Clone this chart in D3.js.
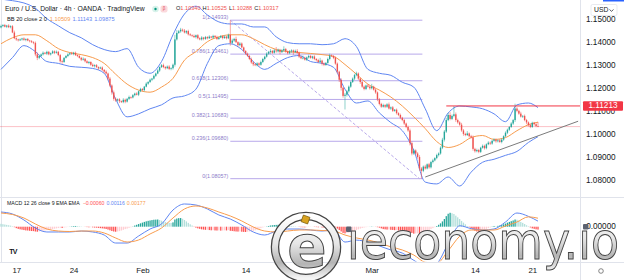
<!DOCTYPE html>
<html>
<head>
<meta charset="utf-8">
<script src="https://cdn.jsdelivr.net/npm/d3@7"></script>
<style>
  body { margin: 0; background: #fff; }
  svg { display: block; font-family: "Liberation Sans", Arial, sans-serif; }
</style>
</head>
<body>
<script>
// ---------- DATA ----------
// 4h candles, open = previous close
const firstOpen = 1.1462;
const closes = [
  1.1468,1.1472,1.1465,1.1470,1.1463,1.1467,1.1440,1.1415,1.1410,1.1406,
  1.1410,1.1414,1.1408,1.1412,1.1405,1.1402,1.1398,1.1395,1.1345,1.1330,
  1.1338,1.1345,1.1352,1.1348,1.1356,1.1345,1.1350,1.1358,1.1352,1.1356,
  1.1342,1.1315,1.1312,1.1330,1.1338,1.1345,1.1350,1.1346,1.1352,1.1342,
  1.1338,1.1330,1.1322,1.1326,1.1315,1.1308,1.1312,1.1300,1.1294,1.1298,
  1.1290,1.1284,1.1288,1.1278,1.1270,1.1262,1.1240,1.1210,1.1180,1.1152,
  1.1145,1.1150,1.1142,1.1138,1.1148,1.1140,1.1152,1.1160,1.1158,1.1168,
  1.1175,1.1170,1.1185,1.1195,1.1190,1.1205,1.1218,1.1225,1.1235,1.1240,
  1.1252,1.1262,1.1275,1.1290,1.1298,1.1290,1.1285,1.1292,1.1282,1.1285,
  1.1300,1.1410,1.1438,1.1445,1.1452,1.1448,1.1440,1.1446,1.1432,1.1428,
  1.1425,1.1420,1.1428,1.1415,1.1410,1.1418,1.1412,1.1420,1.1415,1.1422,
  1.1418,1.1425,1.1420,1.1412,1.1418,1.1424,1.1416,1.1422,1.1415,1.1430,
  1.1395,1.1405,1.1412,1.1398,1.1385,1.1392,1.1375,1.1360,1.1348,1.1338,
  1.1325,1.1310,1.1302,1.1298,1.1306,1.1300,1.1312,1.1325,1.1335,1.1348,
  1.1355,1.1360,1.1352,1.1362,1.1358,1.1365,1.1355,1.1362,1.1368,1.1358,
  1.1350,1.1358,1.1362,1.1355,1.1360,1.1352,1.1335,1.1328,1.1330,1.1322,
  1.1332,1.1338,1.1330,1.1336,1.1325,1.1320,1.1312,1.1318,1.1305,1.1300,
  1.1308,1.1325,1.1340,1.1338,1.1330,1.1305,1.1270,1.1235,1.1200,1.1165,
  1.1170,1.1185,1.1205,1.1225,1.1240,1.1255,1.1262,1.1240,1.1225,1.1205,
  1.1195,1.1210,1.1205,1.1198,1.1205,1.1192,1.1180,1.1150,1.1130,1.1118,
  1.1125,1.1118,1.1128,1.1110,1.1115,1.1100,1.1105,1.1090,1.1082,1.1070,
  1.1060,1.1045,1.1030,1.1015,1.0960,1.0915,1.0928,1.0915,1.0900,1.0850,
  1.0840,1.0858,1.0850,1.0868,1.0855,1.0878,1.0885,1.0895,1.0908,1.0915,
  1.0940,1.0975,1.1010,1.1060,1.1082,1.1065,1.1078,1.1085,1.1060,1.1050,
  1.1040,1.1015,1.1000,1.0995,1.1002,1.0990,1.0985,1.0935,1.0925,1.0930,
  1.0922,1.0940,1.0948,1.0938,1.0955,1.0962,1.0958,1.0970,1.0975,1.0968,
  1.0972,1.0965,1.0975,1.0990,1.1005,1.1018,1.1030,1.1045,1.1060,1.1110,
  1.1100,1.1088,1.1075,1.1078,1.1060,1.1050,1.1038,1.1030,1.1048,1.1042,
  1.1034,1.1032
];
// wick lengths in pips above / below the body
const wickUp = [
  6,4,5,3,6,4,5,8,4,3, 4,3,5,2,4,3,5,4,6,8, 5,4,6,3,5,4,3,5,4,6, 4,5,7,3,4,5,3,6,4,5,
  3,5,4,6,3,5,4,3,6,4, 5,3,4,5,3,6,4,7,5,8, 6,4,5,3,7,5,4,6,3,5, 4,6,3,5,4,3,6,4,5,3,
  5,4,6,3,5,7,4,5,6,4, 5,20,12,6,8,5,7,4,6,5, 4,6,3,5,4,6,3,5,4,6, 3,5,4,6,3,5,4,6,3,5,
  63,8,5,10,4,6,5,4,3,5, 4,6,5,3,5,4,6,5,4,6, 5,8,4,6,15,5,4,6,12,5, 4,6,5,4,6,8,5,4,10,5,
  4,6,5,3,5,4,6,12,4,5, 4,6,8,5,4,6,5,4,6,5, 8,6,5,4,5,6,8,5,4,6, 5,4,6,5,12,4,5,4,6,5,
  6,4,5,8,4,6,3,5,4,6, 4,5,4,6,8,7,6,5,6,8, 6,5,8,4,6,5,7,4,6,5, 6,8,7,10,8,12,6,36,8,6,
  5,8,6,5,10,4,6,8,5,6, 5,4,6,5,4,6,5,4,6,5, 4,6,5,4,6,5,4,6,5,21, 6,5,8,4,6,5,4,6,5,4,
  5,18
];
const wickDn = [
  4,5,3,6,4,5,3,4,6,5, 3,5,4,6,3,5,4,6,8,10, 6,4,5,3,6,4,5,3,6,4, 5,6,8,4,3,5,4,3,5,4,
  5,3,6,4,5,3,6,5,4,6, 4,6,3,5,6,4,8,6,10,8, 6,5,8,4,5,7,4,5,6,4, 5,3,6,4,5,6,3,5,4,6,
  4,5,3,6,4,5,6,4,5,6, 6,8,5,4,6,5,4,6,5,4, 5,4,6,5,4,5,6,4,5,3, 4,6,3,5,4,3,6,4,5,4,
  12,5,6,4,6,5,4,6,5,4, 5,6,8,4,5,6,4,5,6,4, 4,6,5,4,6,5,10,4,5,6, 5,4,6,12,4,5,6,4,5,4,
  6,5,4,6,5,6,4,5,8,6, 5,4,6,4,6,5,8,10,12,8, 59,8,6,5,4,6,5,6,8,5, 6,5,4,6,5,4,6,8,6,5,
  4,6,5,4,6,5,4,6,5,6, 5,6,5,6,10,8,6,5,8,10, 34,6,5,4,6,5,6,4,5,6, 5,6,8,6,5,6,5,6,8,6,
  5,6,8,5,4,6,5,8,6,5, 6,5,4,6,5,4,6,5,4,6, 5,4,6,5,4,6,5,4,6,8, 6,5,4,6,5,8,6,5,4,6,
  5,3
];

// Bollinger Bands (20, 2), read once per trading day (every 6th candle + last)
const bbSampleIdx = d3.range(0, 282, 6).concat([281]);
const bbUpper = [1.1585,1.1578,1.1568,1.1545,1.1500,1.1469,1.1439,1.1417,1.1387,1.1366,
  1.1357,1.1370,1.1289,1.1263,1.1314,1.1430,1.1520,1.1554,1.1516,1.1486,
  1.1477,1.1477,1.1464,1.1464,1.1421,1.1396,1.1391,1.1391,1.1387,1.1391,
  1.1413,1.1379,1.1280,1.1263,1.1254,1.1224,1.1203,1.1109,1.1014,1.1091,
  1.1121,1.1117,1.1109,1.1087,1.1053,1.1126,1.1134,1.1114];
const bbBasis = [1.1391,1.1417,1.1430,1.1430,1.1404,1.1370,1.1353,1.1344,1.1331,1.1306,
  1.1259,1.1216,1.1190,1.1181,1.1203,1.1241,1.1320,1.1357,1.1400,1.1421,
  1.1430,1.1430,1.1413,1.1387,1.1366,1.1357,1.1353,1.1349,1.1344,1.1336,
  1.1301,1.1259,1.1216,1.1190,1.1160,1.1121,1.1074,1.1023,1.0967,1.0941,
  1.0954,1.0984,1.0993,1.0976,1.0984,1.1014,1.1040,1.1051];
const bbLower = [1.1280,1.1331,1.1383,1.1357,1.1314,1.1306,1.1293,1.1289,1.1284,1.1263,
  1.1151,1.1074,1.1087,1.1109,1.1126,1.1156,1.1165,1.1194,1.1306,1.1383,
  1.1391,1.1366,1.1314,1.1280,1.1306,1.1331,1.1340,1.1314,1.1306,1.1289,
  1.1194,1.1134,1.1143,1.1091,1.1049,1.1014,1.0929,1.0791,1.0783,1.0813,
  1.0774,1.0834,1.0877,1.0890,1.0907,1.0924,1.0963,1.0988];

// MACD (12, 26, 9), same daily sampling
const macdLine = [0.00306,0.00265,0.00140,-0.00027,-0.00110,-0.00110,-0.00110,-0.00090,-0.00110,-0.00173,
  -0.00340,-0.00340,-0.00194,-0.00048,0.00056,0.00348,0.00473,0.00452,0.00369,0.00244,
  0.00160,0.00035,-0.00110,-0.00173,-0.00090,-0.00048,-0.00048,-0.00069,-0.00090,-0.00069,
  -0.00320,-0.00280,-0.00320,-0.00400,-0.00485,-0.00550,-0.00700,-0.00820,-0.00760,-0.00350,
  0.00020,-0.00040,-0.00069,-0.00048,0.00098,0.00285,0.00215,0.00116];
const signalLine = [0.00285,0.00254,0.00181,0.00056,-0.00048,-0.00090,-0.00100,-0.00090,-0.00090,-0.00131,
  -0.00235,-0.00319,-0.00277,-0.00152,-0.00027,0.00181,0.00369,0.00431,0.00390,0.00306,
  0.00223,0.00119,-0.00006,-0.00090,-0.00110,-0.00090,-0.00069,-0.00069,-0.00080,-0.00090,
  -0.00173,-0.00235,-0.00277,-0.00340,-0.00420,-0.00485,-0.00590,-0.00740,-0.00760,-0.00500,
  -0.00200,-0.00069,-0.00069,-0.00069,0.00015,0.00098,0.00205,0.00177];
// histogram per candle, in 0.00001
const macdHist = [
  60,52,45,38,30,22,10,-10,-30,-45, -55,-62,-70,-78,-80,-85,-90,-92,-100,-105,
  -98,-92,-85,-78,-72,-65,-58,-50,-42,-35, -28,-22,-25,-18,-12,-5,3,8,12,15,
  14,10,6,2,-3,-8,-12,-10,-14,-18, -20,-25,-30,-35,-40,-48,-60,-75,-90,-100,
  -105,-100,-92,-80,-65,-50,-40,-25,-12,5, 25,40,55,70,85,100,112,122,130,138,
  145,148,150,140,125,110,95,85,80,78, 90,150,170,178,180,165,140,110,80,50,
  25,-5,-20,-35,-45,-55,-60,-65,-62,-70, -75,-72,-78,-80,-78,-82,-80,-76,-78,-70,
  -85,-90,-95,-100,-102,-100,-105,-108,-110,-105, -100,-95,-88,-75,-60,-45,-30,-15,-5,5,
  15,25,30,35,38,40,36,32,30,25, 20,15,12,8,6,2,-5,-10,-12,-14,
  -10,-6,-4,-2,-5,-8,-12,-10,-15,-18, -12,5,15,20,12,-10,-40,-70,-100,-130,
  -140,-130,-125,-115,-100,-85,-70,-55,-40,-28, -18,-10,-5,2,5,3,-3,-10,-20,-35,
  -50,-55,-60,-58,-65,-68,-72,-70,-78,-82, -88,-92,-98,-105,-112,-130,-145,-140,-138,-150,
  -140,-120,-105,-85,-70,-50,-30,-10,15,40, 70,110,160,220,270,290,280,265,230,195,
  160,120,85,50,15,-10,-30,-60,-85,-100, -105,-95,-80,-62,-45,-30,-15,5,15,10,
  18,25,35,50,65,85,100,115,130,150, 145,125,100,80,55,30,10,-15,-35,-45,
  -55,-60
];

// drawings
const fibRatios = ["1", "0.786", "0.618", "0.5", "0.382", "0.236", "0"];
const fibPrices = [1.14933, 1.13461, 1.12306, 1.11495, 1.10683, 1.09680, 1.08057];
const fibSpan = [120, 220.5];                      // candle index range of the levels
const fibDiagonal = [[120, 1.14933], [219, 1.08057]];
const trendLine = [[222, 1.0813], [302, 1.1055]];
const resistance = { from: 233, price: 1.11213 };
const lastPrice = 1.10317;

// axes
const priceTicks = [1.08, 1.09, 1.10, 1.11, 1.12, 1.13, 1.14, 1.15];
const dayIdx = [8, 38, 74, 128, 194, 248, 278];
const dayLabels = ["17", "24", "Feb", "14", "Mar", "14", "21"];

// legend
const titleText = "Euro / U.S. Dollar · 4h · OANDA · TradingView";
const ohlc = [["O", "1.10340"], ["H", "1.10525"], ["L", "1.10288"], ["C", "1.10317"]];
const bbLegend = ["1.10509", "1.11143", "1.09875"];
const macdLegend = ["\u22120.00060", "0.00116", "0.00177"];

// ---------- CHART ----------
const WIDTH = 624, HEIGHT = 280;
const PLOT_R = 580, MAIN_B = 197, MACD_B = 262;
const UP = "#26a69a", DOWN = "#ef5350";
const BLUE = "#5f86f2", ORANGE = "#f89c4e", FIB = "#b8a8ea", FIBTXT = "#8d7bc9";

const svg = d3.select("body").append("svg").attr("width", WIDTH).attr("height", HEIGHT);
const defs = svg.append("defs");
defs.append("clipPath").attr("id", "clipMain").append("rect")
  .attr("x", 0).attr("y", 0).attr("width", PLOT_R).attr("height", MAIN_B);
defs.append("clipPath").attr("id", "clipMacd").append("rect")
  .attr("x", 0).attr("y", MAIN_B + 0.5).attr("width", PLOT_R).attr("height", MACD_B - MAIN_B - 1);
const silver = defs.append("linearGradient").attr("id", "silver")
  .attr("x1", 0).attr("y1", 0).attr("x2", 0).attr("y2", 1);
silver.append("stop").attr("offset", "0%").attr("stop-color", "#ffffff");
silver.append("stop").attr("offset", "45%").attr("stop-color", "#e6e6e6");
silver.append("stop").attr("offset", "75%").attr("stop-color", "#b4b4b4");
silver.append("stop").attr("offset", "100%").attr("stop-color", "#f4f4f4");

const x = d3.scaleLinear().domain([0, 281]).range([1, 538]);
const yP = d3.scaleLinear().domain([1.08, 1.14]).range([180, 41.7]);
const yM = d3.scaleLinear().domain([0, 0.005]).range([226.7, 202.7]);

const candles = closes.map((c, i) => {
  const o = i === 0 ? firstOpen : closes[i - 1];
  return { i, o, c,
    h: Math.max(o, c) + wickUp[i] * 1e-4,
    l: Math.min(o, c) - wickDn[i] * 1e-4 };
});

// frame lines
svg.append("line").attr("x1", 1.5).attr("x2", 1.5).attr("y1", 0).attr("y2", MACD_B).attr("stroke", "#e0e3eb");
svg.append("line").attr("x1", 0).attr("x2", WIDTH).attr("y1", MAIN_B + 0.5).attr("y2", MAIN_B + 0.5).attr("stroke", "#e0e3eb");
svg.append("line").attr("x1", 0).attr("x2", WIDTH).attr("y1", MACD_B + 0.5).attr("y2", MACD_B + 0.5).attr("stroke", "#e0e3eb");
svg.append("line").attr("x1", PLOT_R + 0.5).attr("x2", PLOT_R + 0.5).attr("y1", 0).attr("y2", HEIGHT).attr("stroke", "#e0e3eb");
svg.append("rect").attr("x", 603).attr("y", 0).attr("width", 21).attr("height", 1.5).attr("fill", "#2962ff");

// ---- main pane ----
const mainG = svg.append("g").attr("clip-path", "url(#clipMain)");

mainG.append("line").attr("x1", 0).attr("x2", PLOT_R)
  .attr("y1", yP(lastPrice)).attr("y2", yP(lastPrice))
  .attr("stroke", "#f23645").attr("stroke-opacity", 0.3);

// fibonacci retracement
const fibG = mainG.append("g");
fibG.selectAll("line.lvl").data(fibPrices).enter().append("line").attr("class", "lvl")
  .attr("x1", x(fibSpan[0])).attr("x2", x(fibSpan[1]))
  .attr("y1", d => yP(d)).attr("y2", d => yP(d))
  .attr("stroke", FIB).attr("stroke-width", 1);
fibG.selectAll("text").data(fibPrices).enter().append("text")
  .attr("x", x(fibSpan[0]) - 2).attr("y", d => yP(d) - 2.6)
  .attr("text-anchor", "end").attr("dominant-baseline", "middle")
  .attr("font-size", 5.4).attr("fill", FIBTXT)
  .text((d, i) => `${fibRatios[i]}(${d.toFixed(5)})`);
fibG.append("line")
  .attr("x1", x(fibDiagonal[0][0])).attr("y1", yP(fibDiagonal[0][1]))
  .attr("x2", x(fibDiagonal[1][0])).attr("y2", yP(fibDiagonal[1][1]))
  .attr("stroke", FIB).attr("stroke-dasharray", "3,2");

// bollinger bands
const bandLine = arr => d3.line()
  .x((d, k) => x(bbSampleIdx[k])).y(d => yP(d))
  .curve(d3.curveMonotoneX)(arr);
mainG.append("path").attr("d", bandLine(bbUpper)).attr("fill", "none").attr("stroke", BLUE).attr("stroke-width", 1);
mainG.append("path").attr("d", bandLine(bbLower)).attr("fill", "none").attr("stroke", BLUE).attr("stroke-width", 1);
mainG.append("path").attr("d", bandLine(bbBasis)).attr("fill", "none").attr("stroke", ORANGE).attr("stroke-width", 1);

// candles
const cg = mainG.append("g").selectAll("g").data(candles).enter().append("g");
cg.append("line")
  .attr("x1", d => x(d.i)).attr("x2", d => x(d.i))
  .attr("y1", d => yP(d.h)).attr("y2", d => yP(d.l))
  .attr("stroke", d => d.c >= d.o ? UP : DOWN).attr("stroke-width", 0.7).attr("stroke-opacity", 0.75);
cg.append("rect")
  .attr("x", d => x(d.i) - 0.7).attr("width", 1.4)
  .attr("y", d => yP(Math.max(d.o, d.c)))
  .attr("height", d => Math.max(0.7, Math.abs(yP(d.o) - yP(d.c))))
  .attr("fill", d => d.c >= d.o ? UP : DOWN);

// trend line + horizontal resistance
mainG.append("line")
  .attr("x1", x(trendLine[0][0])).attr("y1", yP(trendLine[0][1]))
  .attr("x2", x(trendLine[1][0])).attr("y2", yP(trendLine[1][1]))
  .attr("stroke", "#7b7b7b").attr("stroke-width", 1);
mainG.append("line")
  .attr("x1", x(resistance.from)).attr("x2", PLOT_R)
  .attr("y1", yP(resistance.price)).attr("y2", yP(resistance.price))
  .attr("stroke", "#f23645").attr("stroke-width", 1);

// price axis
const pAxis = svg.append("g").attr("transform", `translate(${PLOT_R},0)`)
  .call(d3.axisRight(yP).tickValues(priceTicks).tickFormat(d3.format(".5f")).tickSize(0).tickPadding(6));
pAxis.select(".domain").remove();
pAxis.selectAll("text").attr("font-size", 8.2).attr("fill", "#131722")
  .attr("font-family", "Liberation Sans, Arial, sans-serif");

// USD label
svg.append("rect").attr("x", 591).attr("y", 4.5).attr("width", 26).attr("height", 11).attr("rx", 1.5)
  .attr("fill", "#fff").attr("stroke", "#d1d4dc").attr("stroke-width", 0.5);
svg.append("text").attr("x", 594).attr("y", 10.3).attr("dominant-baseline", "middle")
  .attr("font-size", 6.8).attr("fill", "#131722").text("USD");
svg.append("path").attr("d", "M609.5,9.5 L611.5,11.3 L613.5,9.5").attr("fill", "none").attr("stroke", "#131722").attr("stroke-width", 0.7);

// resistance price label
svg.append("rect").attr("x", 583).attr("y", yP(resistance.price) - 4.8).attr("width", 40).attr("height", 9.6)
  .attr("rx", 1).attr("fill", "#f23645");
svg.append("text").attr("x", 603).attr("y", yP(resistance.price) + 0.3)
  .attr("text-anchor", "middle").attr("dominant-baseline", "middle")
  .attr("font-size", 8.2).attr("fill", "#fff").text(resistance.price.toFixed(5));

// ---- MACD pane ----
const macdG = svg.append("g").attr("clip-path", "url(#clipMacd)");
const histColor = (v, prev) => v >= 0 ? (v > prev ? "#26a69a" : "#b2dfdb") : (v > prev ? "#ffcdd2" : "#ff5252");
macdG.selectAll("rect").data(macdHist).enter().append("rect")
  .attr("x", (d, i) => x(i) - 0.65).attr("width", 1.3)
  .attr("y", d => yM(Math.max(0, d * 1e-5)))
  .attr("height", d => Math.abs(yM(d * 1e-5) - yM(0)))
  .attr("fill", (d, i) => histColor(d, i ? macdHist[i - 1] : d));
const macdPath = arr => d3.line()
  .x((d, k) => x(bbSampleIdx[k])).y(d => yM(d))
  .curve(d3.curveMonotoneX)(arr);
macdG.append("path").attr("d", macdPath(macdLine)).attr("fill", "none").attr("stroke", BLUE).attr("stroke-width", 1);
macdG.append("path").attr("d", macdPath(signalLine)).attr("fill", "none").attr("stroke", ORANGE).attr("stroke-width", 1);

svg.append("text").attr("x", 601).attr("y", yM(0)).attr("text-anchor", "middle").attr("dominant-baseline", "middle")
  .attr("font-size", 8.2).attr("fill", "#131722").text("0.00000");

// time axis
const tAxis = svg.append("g").attr("transform", `translate(0,${MACD_B})`)
  .call(d3.axisBottom(x).tickValues(dayIdx).tickFormat((d, i) => dayLabels[i]).tickSize(0).tickPadding(5));
tAxis.select(".domain").remove();
tAxis.selectAll("text").attr("font-size", 7.8).attr("fill", "#131722")
  .attr("font-family", "Liberation Sans, Arial, sans-serif");
svg.append("circle").attr("cx", 601).attr("cy", 271).attr("r", 2.3).attr("fill", "none").attr("stroke", "#555").attr("stroke-width", 0.7);

// ---- legends ----
svg.append("text").attr("x", 5).attr("y", 9.3).attr("dominant-baseline", "middle")
  .attr("font-size", 6.8).attr("fill", "#131722").text(titleText);
svg.append("circle").attr("cx", 155.5).attr("cy", 9).attr("r", 3.3).attr("fill", "#d7f2ea");
svg.append("circle").attr("cx", 155.5).attr("cy", 9).attr("r", 1.2).attr("fill", "#089981");
svg.append("rect").attr("x", 160.5).attr("y", 5.5).attr("width", 7).attr("height", 7).attr("rx", 2).attr("fill", "#fbd9dc");
svg.append("text").attr("x", 164).attr("y", 9.2).attr("text-anchor", "middle").attr("dominant-baseline", "middle")
  .attr("font-size", 4.5).attr("fill", "#e04a59").text("\u03b2");

const ohlcT = svg.append("text").attr("x", 176).attr("y", 9.3).attr("dominant-baseline", "middle").attr("font-size", 5.6);
ohlc.forEach(([k, v], i) => {
  ohlcT.append("tspan").attr("fill", "#131722").attr("dx", i ? 2 : 0).text(k);
  ohlcT.append("tspan").attr("fill", DOWN).text(v);
});

const bbT = svg.append("text").attr("x", 7).attr("y", 19).attr("dominant-baseline", "middle").attr("font-size", 5.7);
bbT.append("tspan").attr("fill", "#131722").text("BB 20 close 2 0");
bbT.append("tspan").attr("fill", ORANGE).attr("dx", 3).text(bbLegend[0]);
bbT.append("tspan").attr("fill", BLUE).attr("dx", 2).text(bbLegend[1]);
bbT.append("tspan").attr("fill", BLUE).attr("dx", 2).text(bbLegend[2]);

const mT = svg.append("text").attr("x", 7).attr("y", 204.3).attr("dominant-baseline", "middle").attr("font-size", 5.2);
mT.append("tspan").attr("fill", "#131722").text("MACD 12 26 close 9 EMA EMA");
mT.append("tspan").attr("fill", "#ff5252").attr("dx", 3).text(macdLegend[0]);
mT.append("tspan").attr("fill", BLUE).attr("dx", 2).text(macdLegend[1]);
mT.append("tspan").attr("fill", ORANGE).attr("dx", 2).text(macdLegend[2]);

// TradingView logo
svg.append("text").attr("x", 13).attr("y", 252.5).attr("text-anchor", "middle").attr("dominant-baseline", "middle")
  .attr("font-size", 7).attr("font-weight", "bold").attr("fill", "#131722").attr("letter-spacing", -0.6).text("TV");

// ---- watermark ----
const wm = svg.append("g");
wm.append("circle").attr("cx", 306).attr("cy", 247).attr("r", 31).attr("fill", "none")
  .attr("stroke", "#444").attr("stroke-width", 8.5);
wm.append("circle").attr("cx", 306).attr("cy", 247).attr("r", 31).attr("fill", "none")
  .attr("stroke", "url(#silver)").attr("stroke-width", 6);
wm.append("text").attr("x", 307).attr("y", 267).attr("text-anchor", "middle")
  .attr("font-family", "DejaVu Sans, sans-serif").attr("font-size", 58).attr("font-weight", "bold")
  .attr("fill", "url(#silver)").attr("stroke", "#444").attr("stroke-width", 1).text("e");
wm.append("rect").attr("x", 302).attr("y", 216).attr("width", 7).attr("height", 7)
  .attr("transform", "rotate(20,305.5,219.5)").attr("fill", "#d9a321").attr("stroke", "#6b4d00").attr("stroke-width", 0.6);
wm.append("text").attr("x", 347).attr("y", 259)
  .attr("font-family", "DejaVu Sans, sans-serif").attr("font-size", 52)
  .attr("textLength", 272).attr("lengthAdjust", "spacingAndGlyphs")
  .attr("fill", "url(#silver)").attr("stroke", "#444").attr("stroke-width", 1).text("\u0131economy.\u0131o");
wm.append("rect").attr("x", 346).attr("y", 226.5).attr("width", 5.5).attr("height", 5.5).attr("rx", 1)
  .attr("fill", "#5c6270");
wm.append("rect").attr("x", 583).attr("y", 224).attr("width", 5.5).attr("height", 5.5).attr("rx", 1)
  .attr("fill", "#5c6270");
</script>
</body>
</html>
